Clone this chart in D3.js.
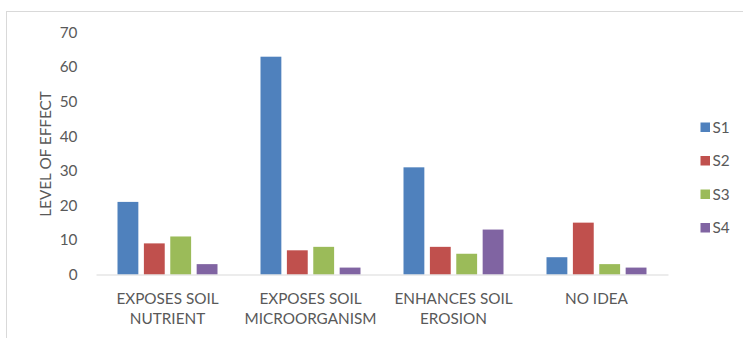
<!DOCTYPE html>
<html>
<head>
<meta charset="utf-8">
<script src="https://cdn.jsdelivr.net/npm/d3@7"></script>
<style>
  html, body { margin: 0; padding: 0; background: #fff; }
  svg { display: block; }
  text { font-family: Lato, "Open Sans", sans-serif; fill: #595959; }
</style>
</head>
<body>
<svg id="chart" width="743" height="338"></svg>
<script>
// Categories (two-line labels) and series
const categories = [
  ["EXPOSES SOIL", "NUTRIENT"],
  ["EXPOSES SOIL", "MICROORGANISM"],
  ["ENHANCES SOIL", "EROSION"],
  ["NO IDEA"]
];
const seriesNames = ["S1", "S2", "S3", "S4"];
const s1 = [21, 63, 31, 5];
const s2 = [9, 7, 8, 15];
const s3 = [11, 8, 6, 3];
const s4 = [3, 2, 13, 2];
const yTicks = [0, 10, 20, 30, 40, 50, 60, 70];
const yTitle = "LEVEL OF EFFECT";
const colors = ["#4F81BD", "#C0504D", "#9BBB59", "#8064A2"];

const FONT_SIZE = "15.3px";

const seriesValues = [s1, s2, s3, s4];
const rows = categories.map((c, i) => ({
  idx: i,
  values: seriesNames.map((n, j) => ({ name: n, value: seriesValues[j][i] }))
}));

const svg = d3.select("#chart");

// outer frame (top and left edges visible)
svg.append("rect")
  .attr("x", 6.5).attr("y", 11.5)
  .attr("width", 760).attr("height", 360)
  .attr("fill", "none").attr("stroke", "#d9d9d9").attr("stroke-width", 1);

const plot = { left: 96, right: 668, top: 32.5, bottom: 274.5 };

const x0 = d3.scaleBand()
  .domain(d3.range(categories.length))
  .range([plot.left, plot.right])
  .padding(0);

const x1 = d3.scaleBand()
  .domain(seriesNames)
  .range([21.5, x0.bandwidth() - 21.5])
  .paddingInner(0.21);

const y = d3.scaleLinear()
  .domain([0, 70])
  .range([plot.bottom, plot.top]);

// y tick labels
const yAxis = d3.axisLeft(y).tickValues(yTicks).tickSize(0).tickPadding(0);
const gy = svg.append("g")
  .attr("transform", "translate(77.5,0)")
  .call(yAxis);
gy.select(".domain").remove();
gy.selectAll("text")
  .style("font-family", "Lato, 'Open Sans', sans-serif")
  .style("font-size", FONT_SIZE)
  .attr("fill", "#595959");

// bars
const groups = svg.append("g").selectAll("g")
  .data(rows)
  .join("g")
  .attr("transform", d => `translate(${x0(d.idx)},0)`);

groups.selectAll("rect")
  .data(d => d.values)
  .join("rect")
  .attr("x", d => x1(d.name))
  .attr("width", x1.bandwidth())
  .attr("y", d => y(d.value))
  .attr("height", d => y(0) - y(d.value))
  .attr("fill", (d, i) => colors[i]);

// category axis line
const xAxis = d3.axisBottom(x0).tickSize(0).tickFormat("");
const gx = svg.append("g")
  .attr("transform", `translate(0,${plot.bottom})`)
  .call(xAxis);
gx.select(".domain").attr("stroke", "#d9d9d9").attr("stroke-width", 1.2);

// two-line category labels
const labels = svg.append("g").selectAll("text")
  .data(rows)
  .join("text")
  .attr("text-anchor", "middle")
  .style("font-size", FONT_SIZE)
  .attr("x", d => x0(d.idx) + x0.bandwidth() / 2)
  .attr("y", 303.5);
labels.selectAll("tspan")
  .data(d => categories[d.idx])
  .join("tspan")
  .attr("x", function () { return d3.select(this.parentNode).attr("x"); })
  .attr("dy", (d, i) => i === 0 ? 0 : 20.5)
  .text(d => d);

// y axis title
svg.append("text")
  .attr("transform", "translate(51,154) rotate(-90)")
  .attr("text-anchor", "middle")
  .style("font-size", FONT_SIZE)
  .text(yTitle);

// legend
const legend = svg.append("g").selectAll("g")
  .data(seriesNames)
  .join("g")
  .attr("transform", (d, i) => `translate(700.5,${122.5 + i * 33.5})`);
legend.append("rect")
  .attr("width", 9.5).attr("height", 9.5)
  .attr("fill", (d, i) => colors[i]);
legend.append("text")
  .attr("x", 12).attr("y", 10)
  .style("font-size", FONT_SIZE)
  .text(d => d);
</script>
</body>
</html>
